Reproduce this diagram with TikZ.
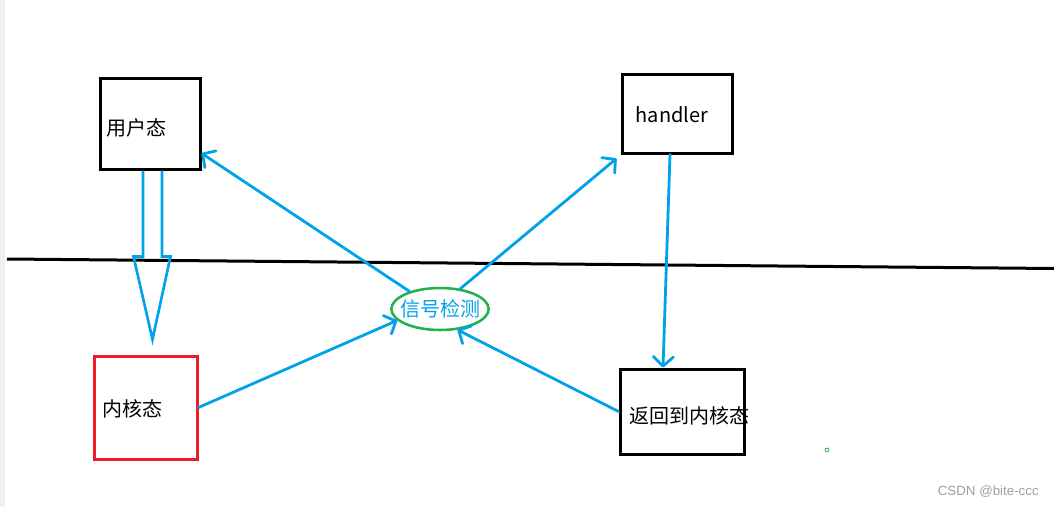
\documentclass[tikz,border=0pt]{standalone}
\usepackage{fontspec}
\setmainfont{Noto Sans CJK SC}
\newfontfamily\wmfont{Liberation Sans}
\usetikzlibrary{calc}
\usetikzlibrary{positioning, shapes.geometric}
\usetikzlibrary{arrows.meta}

\definecolor{paintblue}{HTML}{00A2E8}
\definecolor{paintred}{HTML}{ED1C24}
\definecolor{paintgreen}{HTML}{22B14C}

\begin{document}
\begin{tikzpicture}[
    x=0.75pt, y=-0.75pt,
    box/.style={rectangle, draw=black, line width=2.25pt, inner sep=0pt},
    txt/.style={font=\fontsize{15}{18}\selectfont, inner sep=0pt},
    flow/.style={paintblue, line width=2.1pt, line cap=round, -{Straight Barb[length=7pt, width=15pt, round]}},
    hollow/.style={draw=paintblue, line width=2pt, line join=miter},
    divider/.style={black, line width=2.25pt},
]
    \useasboundingbox (0,0) rectangle (1054,507);
    \fill[gray!12] (0,0) rectangle (5,507);

    % --- Boxes ---
    \node[box, minimum width=75pt, minimum height=68.25pt] (user) at (150,123.5) {};
    \node[txt, anchor=west] (usertxt) at ($(user.west)+(8,4.5)$) {用户态};

    \node[box, minimum width=82.5pt, minimum height=59.25pt] (handler) at (677,113.5) {};
    \node[txt] (handlertxt) at ($(handler.center)+(-5,1.5)$) {handler};

    \node[box, draw=paintred, minimum width=77.25pt, minimum height=77.25pt] (kernel) at (145.5,407.5) {};
    \node[txt, anchor=west] (kerneltxt) at ($(kernel.west)+(10,1.5)$) {内核态};

    \node[box, minimum width=93pt, minimum height=63.75pt] (ret) at (682,411.5) {};
    \node[txt, anchor=west] (rettxt) at ($(ret.west)+(11,4.5)$) {返回到内核态};

    % --- Signal check ---
    \node[ellipse, draw=paintgreen, line width=1.9pt, minimum width=73pt, minimum height=31.5pt,
          inner sep=0pt, label={[txt, text=paintblue]center:信号检测}] (sig) at (440,309) {};

    % --- Divider between user and kernel space ---
    \coordinate (lineL) at (7,259);
    \coordinate (lineR) at (1054,268.5);
    \draw[divider] (lineL) -- (lineR);

    % --- Hollow arrow user -> kernel ---
    \coordinate (hs) at ($(user.south)+(2.5,0)$);
    \coordinate (htip) at ($(hs)+(0,169)$);
    \draw[hollow] ($(hs)+(-9.5,0)$) -- ($(hs)+(-9.5,86)$) -- ($(hs)+(-19,86)$)
        -- (htip) -- ($(hs)+(18,86)$) -- ($(hs)+(9.5,86)$) -- ($(hs)+(9.5,0)$);

    % --- Flow arrows ---
    \draw[flow] (kernel.east) -- (sig.195);
    \draw[flow] (sig.150) -- (user.-30);
    \draw[flow] (sig.45) -- ($(handler.south west)+(-4,4)$);
    \draw[flow] ($(handler.south)+(-7,0)$) -- ($(ret.north)+(-19,0)$);
    \draw[flow] (ret.west) -- (sig.-50);

    % --- Small dot and watermark ---
    \node[circle, draw=paintgreen, line width=0.6pt, minimum size=3pt, inner sep=0pt] (dot) at (827,450) {};
    \node[font=\wmfont\fontsize{10}{12}\selectfont, text=gray!75, anchor=east, inner sep=0pt] (wm) at (1039,492) {CSDN @bite-ccc};

\end{tikzpicture}
\end{document}
